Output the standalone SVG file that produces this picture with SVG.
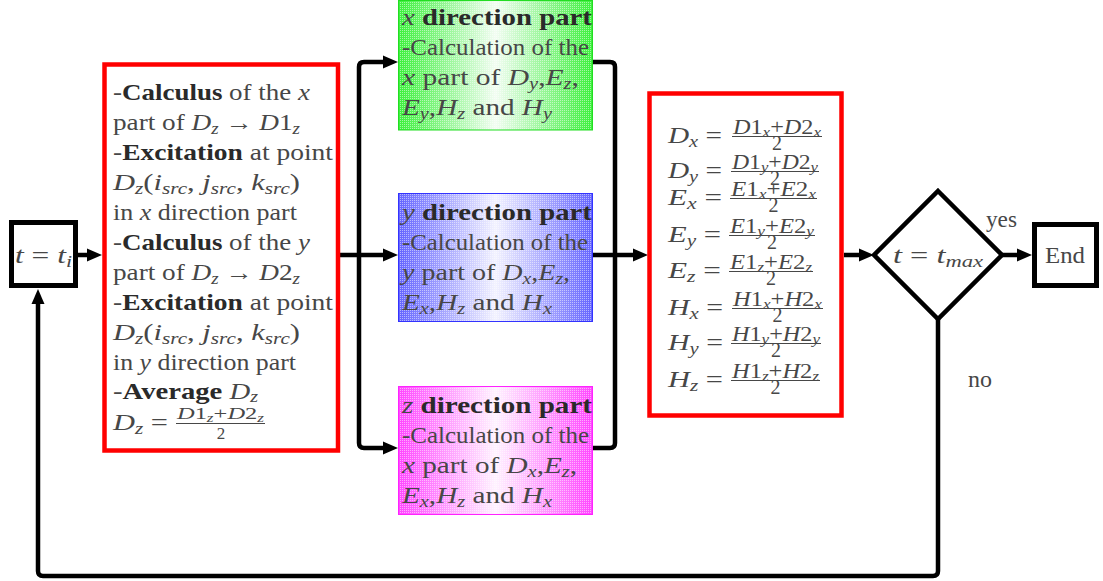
<svg xmlns="http://www.w3.org/2000/svg" width="1103" height="581" viewBox="0 0 1103 581">
  <style>
    .t { font-family: 'Liberation Serif', 'Times New Roman', serif; font-size: 23px; fill: #474747; }
    .n { font-size: 20px; }
    .dn { font-size: 20px; text-anchor: middle; }
    .i { font-style: italic; }
    .b { font-weight: bold; fill: #2a2a2a; }
    .s { font-size: 16px; }
    .ss { font-size: 14px; }
    .f { font-size: 17px; }
    .fs { font-size: 12px; }
    .box { fill: #fff; stroke: #000; stroke-width: 5; }
    .red { fill: #fff; stroke: #ff0000; stroke-width: 4.5; }
    .bar { stroke: #474747; stroke-width: 1.2; }
    .conn path { fill: none; stroke: #000; stroke-width: 4.5; stroke-linejoin: round; }
    .arr { marker-end: url(#ah); }
  </style>
  <defs>
    <marker id="ah" markerUnits="userSpaceOnUse" markerWidth="16" markerHeight="14" refX="7" refY="7" orient="auto">
      <path d="M0,0.5 L15,7 L0,13.5 z" fill="#000"/>
    </marker>
    <pattern id="dots" width="2" height="2" patternUnits="userSpaceOnUse">
      <rect width="1" height="1" fill="#fff"/>
    </pattern>
    <linearGradient id="gG" x1="0" y1="0" x2="1" y2="0">
      <stop offset="0" stop-color="#3cf03c"/>
      <stop offset="0.5" stop-color="#f2fdf2"/>
      <stop offset="1" stop-color="#3cf03c"/>
    </linearGradient>
    <linearGradient id="gB" x1="0" y1="0" x2="1" y2="0">
      <stop offset="0" stop-color="#6464ff"/>
      <stop offset="0.5" stop-color="#f2f2ff"/>
      <stop offset="1" stop-color="#6464ff"/>
    </linearGradient>
    <linearGradient id="gM" x1="0" y1="0" x2="1" y2="0">
      <stop offset="0" stop-color="#ff46ff"/>
      <stop offset="0.5" stop-color="#fff2ff"/>
      <stop offset="1" stop-color="#ff46ff"/>
    </linearGradient>
  </defs>

  <rect width="1103" height="581" fill="#fff"/>

  <!-- connectors -->
  <g id="connectors" class="conn">
    <path class="arr" d="M78,255 H94"/>
    <path class="arr" d="M340,255 H390"/>
    <path class="arr" d="M359,255 V67 Q359,62 364,62 H390"/>
    <path class="arr" d="M359,255 V443 Q359,448 364,448 H390"/>
    <path d="M593,62 H610 Q615,62 615,67 V443 Q615,448 610,448 H593"/>
    <path class="arr" d="M593,255 H640"/>
    <path class="arr" d="M844,255 H866"/>
    <path class="arr" d="M1002,255 H1024"/>
    <path class="arr" d="M938,318 V571 Q938,576 933,576 H43 Q38,576 38,571 V297"/>
  </g>

  <!-- start -->
  <g id="start">
    <rect class="box" x="11.5" y="222.5" width="64" height="63"/>
    <text class="t" x="15" y="263" textLength="57" lengthAdjust="spacingAndGlyphs"><tspan class="i">t</tspan> = <tspan class="i">t</tspan><tspan class="s i" dy="4">i</tspan></text>
  </g>

  <!-- D_z update block -->
  <g id="dz-block">
    <rect class="red" x="104.5" y="64.5" width="233.5" height="386"/>
    <text class="t" x="113" y="100" textLength="197" lengthAdjust="spacingAndGlyphs">-<tspan class="b">Calculus</tspan> of the <tspan class="i">x</tspan></text>
    <text class="t" x="113" y="130" textLength="187" lengthAdjust="spacingAndGlyphs">part of <tspan class="i">D</tspan><tspan class="s i" dy="4">z</tspan><tspan dy="-4"> → </tspan><tspan class="i">D</tspan>1<tspan class="s i" dy="4">z</tspan></text>
    <text class="t" x="113" y="160" textLength="220" lengthAdjust="spacingAndGlyphs">-<tspan class="b">Excitation</tspan> at point</text>
    <text class="t" x="113" y="190" textLength="187" lengthAdjust="spacingAndGlyphs"><tspan class="i">D</tspan><tspan class="s i" dy="4">z</tspan><tspan dy="-4">(</tspan><tspan class="i">i</tspan><tspan class="s i" dy="4">src</tspan><tspan dy="-4">, </tspan><tspan class="i">j</tspan><tspan class="s i" dy="4">src</tspan><tspan dy="-4">, </tspan><tspan class="i">k</tspan><tspan class="s i" dy="4">src</tspan><tspan dy="-4">)</tspan></text>
    <text class="t" x="113" y="220" textLength="184" lengthAdjust="spacingAndGlyphs">in <tspan class="i">x</tspan> direction part</text>
    <text class="t" x="113" y="250" textLength="197" lengthAdjust="spacingAndGlyphs">-<tspan class="b">Calculus</tspan> of the <tspan class="i">y</tspan></text>
    <text class="t" x="113" y="280" textLength="187" lengthAdjust="spacingAndGlyphs">part of <tspan class="i">D</tspan><tspan class="s i" dy="4">z</tspan><tspan dy="-4"> → </tspan><tspan class="i">D</tspan>2<tspan class="s i" dy="4">z</tspan></text>
    <text class="t" x="113" y="310" textLength="220" lengthAdjust="spacingAndGlyphs">-<tspan class="b">Excitation</tspan> at point</text>
    <text class="t" x="113" y="340" textLength="187" lengthAdjust="spacingAndGlyphs"><tspan class="i">D</tspan><tspan class="s i" dy="4">z</tspan><tspan dy="-4">(</tspan><tspan class="i">i</tspan><tspan class="s i" dy="4">src</tspan><tspan dy="-4">, </tspan><tspan class="i">j</tspan><tspan class="s i" dy="4">src</tspan><tspan dy="-4">, </tspan><tspan class="i">k</tspan><tspan class="s i" dy="4">src</tspan><tspan dy="-4">)</tspan></text>
    <text class="t" x="113" y="370" textLength="183" lengthAdjust="spacingAndGlyphs">in <tspan class="i">y</tspan> direction part</text>
    <text class="t" x="113" y="399" textLength="145" lengthAdjust="spacingAndGlyphs">-<tspan class="b">Average</tspan> <tspan class="i">D</tspan><tspan class="s i" dy="3">z</tspan></text>
    <text class="t" x="113" y="430" textLength="55" lengthAdjust="spacingAndGlyphs"><tspan class="i">D</tspan><tspan class="s i" dy="4">z</tspan><tspan dy="-4"> =</tspan></text>
    <text class="t f" x="177" y="419" textLength="87" lengthAdjust="spacingAndGlyphs"><tspan class="i">D</tspan>1<tspan class="fs i" dy="3">z</tspan><tspan dy="-3">+</tspan><tspan class="i">D</tspan>2<tspan class="fs i" dy="3">z</tspan></text>
    <line class="bar" x1="176" y1="423.5" x2="265" y2="423.5"/>
    <text class="t f" x="221" y="439" text-anchor="middle">2</text>
  </g>

  <!-- x direction part -->
  <g id="x-part">
    <rect x="398.5" y="0.5" width="194" height="129.5" fill="url(#gG)"/>
    <rect x="398.5" y="0.5" width="194" height="129.5" fill="url(#dots)" opacity="0.5"/>
    <rect x="398.5" y="0.5" width="194" height="129.5" fill="none" stroke="#22dd22" stroke-width="1"/>
    <text class="t" x="402" y="25" textLength="190" lengthAdjust="spacingAndGlyphs"><tspan class="i">x</tspan> <tspan class="b">direction part</tspan></text>
    <text class="t" x="402" y="55" textLength="187" lengthAdjust="spacingAndGlyphs">-Calculation of the</text>
    <text class="t" x="402" y="85" textLength="177" lengthAdjust="spacingAndGlyphs"><tspan class="i">x</tspan> part of <tspan class="i">D</tspan><tspan class="s i" dy="4">y</tspan><tspan dy="-4">,</tspan><tspan class="i">E</tspan><tspan class="s i" dy="4">z</tspan><tspan dy="-4">,</tspan></text>
    <text class="t" x="402" y="115" textLength="150" lengthAdjust="spacingAndGlyphs"><tspan class="i">E</tspan><tspan class="s i" dy="4">y</tspan><tspan dy="-4">,</tspan><tspan class="i">H</tspan><tspan class="s i" dy="4">z</tspan><tspan dy="-4"> and </tspan><tspan class="i">H</tspan><tspan class="s i" dy="4">y</tspan></text>
  </g>

  <!-- y direction part -->
  <g id="y-part">
    <rect x="398.5" y="193.5" width="194" height="128" fill="url(#gB)"/>
    <rect x="398.5" y="193.5" width="194" height="128" fill="url(#dots)" opacity="0.5"/>
    <rect x="398.5" y="193.5" width="194" height="128" fill="none" stroke="#3333ff" stroke-width="1"/>
    <text class="t" x="402" y="220" textLength="190" lengthAdjust="spacingAndGlyphs"><tspan class="i">y</tspan> <tspan class="b">direction part</tspan></text>
    <text class="t" x="402" y="250" textLength="186" lengthAdjust="spacingAndGlyphs">-Calculation of the</text>
    <text class="t" x="402" y="280" textLength="168" lengthAdjust="spacingAndGlyphs"><tspan class="i">y</tspan> part of <tspan class="i">D</tspan><tspan class="s i" dy="4">x</tspan><tspan dy="-4">,</tspan><tspan class="i">E</tspan><tspan class="s i" dy="4">z</tspan><tspan dy="-4">,</tspan></text>
    <text class="t" x="402" y="310" textLength="150" lengthAdjust="spacingAndGlyphs"><tspan class="i">E</tspan><tspan class="s i" dy="4">x</tspan><tspan dy="-4">,</tspan><tspan class="i">H</tspan><tspan class="s i" dy="4">z</tspan><tspan dy="-4"> and </tspan><tspan class="i">H</tspan><tspan class="s i" dy="4">x</tspan></text>
  </g>

  <!-- z direction part -->
  <g id="z-part">
    <rect x="398.5" y="386.5" width="194" height="128" fill="url(#gM)"/>
    <rect x="398.5" y="386.5" width="194" height="128" fill="url(#dots)" opacity="0.5"/>
    <rect x="398.5" y="386.5" width="194" height="128" fill="none" stroke="#ff22ff" stroke-width="1"/>
    <text class="t" x="402" y="413" textLength="190" lengthAdjust="spacingAndGlyphs"><tspan class="i">z</tspan> <tspan class="b">direction part</tspan></text>
    <text class="t" x="402" y="443" textLength="187" lengthAdjust="spacingAndGlyphs">-Calculation of the</text>
    <text class="t" x="402" y="473" textLength="175" lengthAdjust="spacingAndGlyphs"><tspan class="i">x</tspan> part of <tspan class="i">D</tspan><tspan class="s i" dy="4">x</tspan><tspan dy="-4">,</tspan><tspan class="i">E</tspan><tspan class="s i" dy="4">z</tspan><tspan dy="-4">,</tspan></text>
    <text class="t" x="402" y="503" textLength="150" lengthAdjust="spacingAndGlyphs"><tspan class="i">E</tspan><tspan class="s i" dy="4">x</tspan><tspan dy="-4">,</tspan><tspan class="i">H</tspan><tspan class="s i" dy="4">z</tspan><tspan dy="-4"> and </tspan><tspan class="i">H</tspan><tspan class="s i" dy="4">x</tspan></text>
  </g>

  <!-- averaging block -->
  <g id="average">
    <rect class="red" x="649.5" y="93.5" width="192" height="322"/>
    <!-- D_x -->
    <text class="t" x="668" y="143" textLength="54" lengthAdjust="spacingAndGlyphs"><tspan class="i">D</tspan><tspan class="s i" dy="4">x</tspan><tspan dy="-4"> =</tspan></text>
    <text class="t n" x="733" y="134" textLength="88" lengthAdjust="spacingAndGlyphs"><tspan class="i">D</tspan>1<tspan class="ss i" dy="3">x</tspan><tspan dy="-3">+</tspan><tspan class="i">D</tspan>2<tspan class="ss i" dy="3">x</tspan></text>
    <line class="bar" x1="732" y1="136.5" x2="822" y2="136.5"/>
    <text class="t dn" x="777" y="150">2</text>
    <!-- D_y -->
    <text class="t" x="668" y="178" textLength="54" lengthAdjust="spacingAndGlyphs"><tspan class="i">D</tspan><tspan class="s i" dy="4">y</tspan><tspan dy="-4"> =</tspan></text>
    <text class="t n" x="732" y="169" textLength="86" lengthAdjust="spacingAndGlyphs"><tspan class="i">D</tspan>1<tspan class="ss i" dy="3">y</tspan><tspan dy="-3">+</tspan><tspan class="i">D</tspan>2<tspan class="ss i" dy="3">y</tspan></text>
    <line class="bar" x1="731" y1="171.5" x2="819" y2="171.5"/>
    <text class="t dn" x="775" y="185">2</text>
    <!-- E_x -->
    <text class="t" x="668" y="205" textLength="54" lengthAdjust="spacingAndGlyphs"><tspan class="i">E</tspan><tspan class="s i" dy="4">x</tspan><tspan dy="-4"> =</tspan></text>
    <text class="t n" x="731" y="196" textLength="85" lengthAdjust="spacingAndGlyphs"><tspan class="i">E</tspan>1<tspan class="ss i" dy="3">x</tspan><tspan dy="-3">+</tspan><tspan class="i">E</tspan>2<tspan class="ss i" dy="3">x</tspan></text>
    <line class="bar" x1="730" y1="198.5" x2="817" y2="198.5"/>
    <text class="t dn" x="773.5" y="212">2</text>
    <!-- E_y -->
    <text class="t" x="668" y="242" textLength="53" lengthAdjust="spacingAndGlyphs"><tspan class="i">E</tspan><tspan class="s i" dy="4">y</tspan><tspan dy="-4"> =</tspan></text>
    <text class="t n" x="730" y="233" textLength="84" lengthAdjust="spacingAndGlyphs"><tspan class="i">E</tspan>1<tspan class="ss i" dy="3">y</tspan><tspan dy="-3">+</tspan><tspan class="i">E</tspan>2<tspan class="ss i" dy="3">y</tspan></text>
    <line class="bar" x1="729" y1="235.5" x2="815" y2="235.5"/>
    <text class="t dn" x="772" y="249">2</text>
    <!-- E_z -->
    <text class="t" x="668" y="278" textLength="53" lengthAdjust="spacingAndGlyphs"><tspan class="i">E</tspan><tspan class="s i" dy="4">z</tspan><tspan dy="-4"> =</tspan></text>
    <text class="t n" x="730" y="269" textLength="82" lengthAdjust="spacingAndGlyphs"><tspan class="i">E</tspan>1<tspan class="ss i" dy="3">z</tspan><tspan dy="-3">+</tspan><tspan class="i">E</tspan>2<tspan class="ss i" dy="3">z</tspan></text>
    <line class="bar" x1="729" y1="271.5" x2="813" y2="271.5"/>
    <text class="t dn" x="771" y="285">2</text>
    <!-- H_x -->
    <text class="t" x="668" y="315" textLength="55" lengthAdjust="spacingAndGlyphs"><tspan class="i">H</tspan><tspan class="s i" dy="4">x</tspan><tspan dy="-4"> =</tspan></text>
    <text class="t n" x="733" y="306" textLength="89" lengthAdjust="spacingAndGlyphs"><tspan class="i">H</tspan>1<tspan class="ss i" dy="3">x</tspan><tspan dy="-3">+</tspan><tspan class="i">H</tspan>2<tspan class="ss i" dy="3">x</tspan></text>
    <line class="bar" x1="732" y1="308.5" x2="823" y2="308.5"/>
    <text class="t dn" x="777.5" y="322">2</text>
    <!-- H_y -->
    <text class="t" x="668" y="350" textLength="55" lengthAdjust="spacingAndGlyphs"><tspan class="i">H</tspan><tspan class="s i" dy="4">y</tspan><tspan dy="-4"> =</tspan></text>
    <text class="t n" x="732" y="341" textLength="88" lengthAdjust="spacingAndGlyphs"><tspan class="i">H</tspan>1<tspan class="ss i" dy="3">y</tspan><tspan dy="-3">+</tspan><tspan class="i">H</tspan>2<tspan class="ss i" dy="3">y</tspan></text>
    <line class="bar" x1="731" y1="343.5" x2="821" y2="343.5"/>
    <text class="t dn" x="776" y="357">2</text>
    <!-- H_z -->
    <text class="t" x="668" y="387" textLength="55" lengthAdjust="spacingAndGlyphs"><tspan class="i">H</tspan><tspan class="s i" dy="4">z</tspan><tspan dy="-4"> =</tspan></text>
    <text class="t n" x="732" y="378" textLength="87" lengthAdjust="spacingAndGlyphs"><tspan class="i">H</tspan>1<tspan class="ss i" dy="3">z</tspan><tspan dy="-3">+</tspan><tspan class="i">H</tspan>2<tspan class="ss i" dy="3">z</tspan></text>
    <line class="bar" x1="731" y1="380.5" x2="820" y2="380.5"/>
    <text class="t dn" x="775.5" y="394">2</text>
  </g>

  <!-- decision -->
  <g id="decision">
    <polygon points="938,191 1002,255 938,319 874,255" fill="#fff" stroke="#000" stroke-width="4.5" stroke-linejoin="miter"/>
    <text class="t" x="893" y="263" textLength="90" lengthAdjust="spacingAndGlyphs"><tspan class="i">t</tspan> = <tspan class="i">t</tspan><tspan class="s i" dy="4">max</tspan></text>
  </g>
  <text id="label-yes" class="t" x="986" y="227" textLength="31" lengthAdjust="spacingAndGlyphs">yes</text>
  <text id="label-no" class="t" x="968" y="387" textLength="24" lengthAdjust="spacingAndGlyphs">no</text>

  <!-- end -->
  <g id="end">
    <rect class="box" x="1034.5" y="224.5" width="62" height="61"/>
    <text class="t" x="1045" y="263" textLength="40" lengthAdjust="spacingAndGlyphs">End</text>
  </g>
</svg>
